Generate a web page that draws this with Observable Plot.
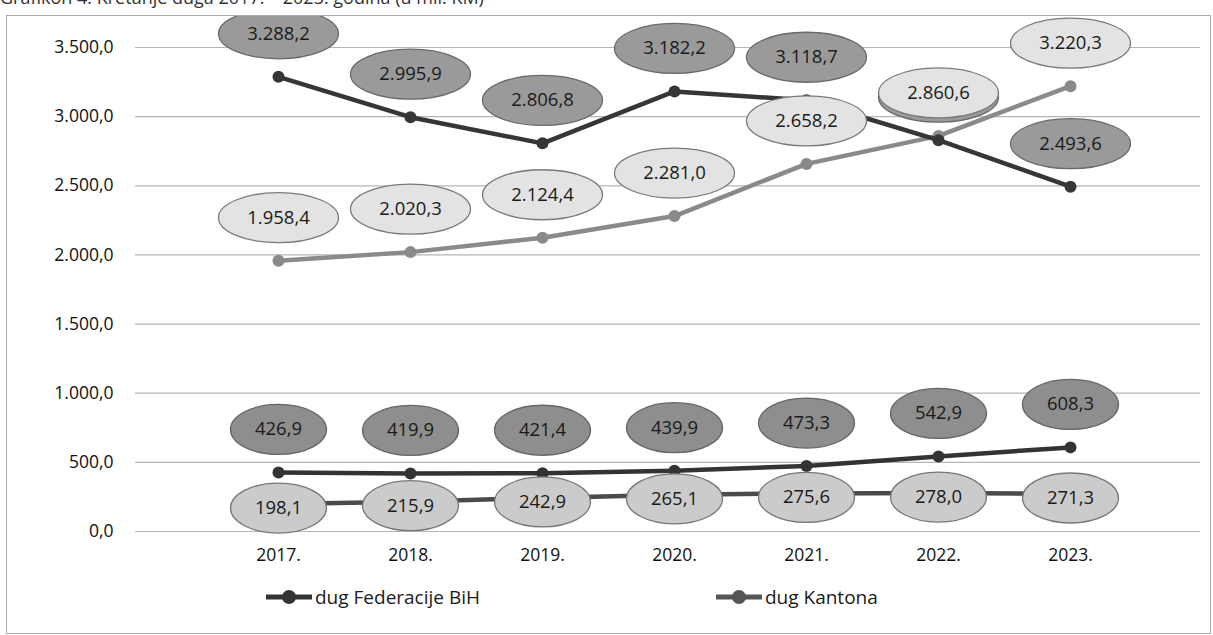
<!DOCTYPE html>
<html>
<head>
<meta charset="utf-8">
<script src="https://cdn.jsdelivr.net/npm/d3@7"></script>
<script src="https://cdn.jsdelivr.net/npm/@observablehq/plot@0.6"></script>
<style>
  html, body { margin: 0; padding: 0; background: #fff; width: 1213px; height: 635px; overflow: hidden; }
  body { font-family: "Open Sans", "Noto Sans", sans-serif; color: #222; position: relative; }
  #title { position: absolute; left: 0px; top: -15px; font-size: 18px; color: #333; white-space: nowrap; }
  #frame { position: absolute; left: 6px; top: 15px; width: 1203px; height: 617px; border: 1px solid #aaa; }
  #chart { position: absolute; left: 0; top: 0; }
  .leg { position: absolute; top: 584px; display: flex; align-items: center; font-size: 19px; color: #1a1a1a; }
  .leg svg { margin-right: 1px; }
</style>
</head>
<body>
<div id="title">Grafikon 4. Kretanje duga 2017. – 2023. godina (u mil. KM)</div>
<div id="frame"><div id="chart"></div></div>
<div class="leg" id="leg1" style="left:264px"></div>
<div class="leg" id="leg2" style="left:714px"></div>
<script>
// ---- data ----
const years = ["2017.", "2018.", "2019.", "2020.", "2021.", "2022.", "2023."];
const gornjaTamna = [3288.2, 2995.9, 2806.8, 3182.2, 3118.7, 2830.0, 2493.6];
const gornjaSvijetla = [1958.4, 2020.3, 2124.4, 2281.0, 2658.2, 2860.6, 3220.3];
const dugFederacije = [426.9, 419.9, 421.4, 439.9, 473.3, 542.9, 608.3];
const dugKantona = [198.1, 215.9, 242.9, 265.1, 275.6, 278.0, 271.3];
const yTicks = [0, 500, 1000, 1500, 2000, 2500, 3000, 3500];
const legendNames = ["dug Federacije BiH", "dug Kantona"];
// label of the dark upper series hidden under the light one in 2022
const hiddenLabelYear = "2022.";

const loc = d3.formatLocale({decimal: ",", thousands: ".", grouping: [3], currency: ["", ""]});
const fmt = loc.format(",.1f");

function rows(arr) { return years.map((y, i) => ({year: y, v: arr[i]})); }
const tD = rows(gornjaTamna), tL = rows(gornjaSvijetla), fD = rows(dugFederacije), kD = rows(dugKantona);

function ellipse(rx, ry) {
  const k = 0.5523;
  return {draw(ctx) {
    ctx.moveTo(rx, 0);
    ctx.bezierCurveTo(rx, ry * k, rx * k, ry, 0, ry);
    ctx.bezierCurveTo(-rx * k, ry, -rx, ry * k, -rx, 0);
    ctx.bezierCurveTo(-rx, -ry * k, -rx * k, -ry, 0, -ry);
    ctx.bezierCurveTo(rx * k, -ry, rx, -ry * k, rx, 0);
    ctx.closePath();
  }};
}
const bigE = ellipse(60, 25), smallE = ellipse(48, 25);

function series(data, color) {
  return [
    Plot.line(data, {x: "year", y: "v", stroke: color, strokeWidth: 4.5}),
    Plot.dot(data, {x: "year", y: "v", fill: color, r: 6})
  ];
}
function labels(data, sym, fill, stroke, dy, textFilter) {
  return [
    Plot.dot(data, {x: "year", y: "v", symbol: sym, fill, stroke, strokeWidth: 1.3, dy}),
    Plot.text(data, {x: "year", y: "v", text: d => fmt(d.v), dy, fontSize: 18.5, fill: "#1a1a1a",
      fontFamily: "Open Sans", filter: textFilter})
  ];
}

const chart = Plot.plot({
  width: 1203,
  height: 560,
  marginTop: 31,
  marginBottom: 45,
  marginLeft: 128,
  marginRight: 10,
  style: {fontFamily: "Open Sans", fontSize: "17px", color: "#111", background: "transparent"},
  x: {type: "point", domain: years, range: [203, 1131], label: null},
  y: {domain: [0, 3500], label: null},
  marks: [
    Plot.gridY(yTicks, {stroke: "#b5b5b5", strokeOpacity: 1, strokeWidth: 1.2}),
    Plot.axisY({ticks: yTicks, tickFormat: fmt, tickSize: 0, tickPadding: 22, fontSize: 17.5, label: null, fill: "#111"}),
    Plot.axisX({tickSize: 0, tickPadding: 17, fontSize: 17.5, label: null, fill: "#111"}),
    ...series(kD, "#4a4a4a"),
    ...series(fD, "#333333"),
    ...series(tL, "#8a8a8a"),
    ...series(tD, "#363636"),
    ...labels(kD, smallE, "#cbcbcb", "#777", 4),
    ...labels(fD, smallE, "#8e8e8e", "#666", -43),
    ...labels(tD, bigE, "#9a9a9a", "#6a6a6a", -43, d => d.year !== hiddenLabelYear),
    ...labels(tL, bigE, "#e3e3e3", "#7a7a7a", -43)
  ]
});
document.getElementById("chart").appendChild(chart);

function legendItem(id, color, name) {
  const el = document.getElementById(id);
  el.innerHTML = `<svg width="50" height="22"><line x1="2" x2="48" y1="11" y2="11" stroke="${color}" stroke-width="5"/><circle cx="25" cy="11" r="7" fill="${color}"/></svg><span>${name}</span>`;
}
legendItem("leg1", "#333333", legendNames[0]);
legendItem("leg2", "#555555", legendNames[1]);
</script>
</body>
</html>
